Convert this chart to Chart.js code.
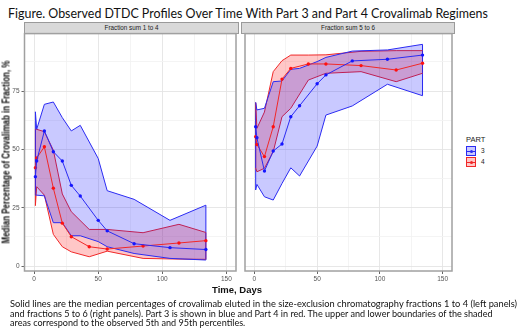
<!DOCTYPE html>
<html>
<head>
<meta charset="utf-8">
<script src="https://cdn.jsdelivr.net/npm/chart.js@4.4.0/dist/chart.umd.min.js"></script>
<style>
  body { margin: 0; background: #fff; }
  #wrap { position: relative; width: 520px; height: 330px; overflow: hidden; font-family: "Liberation Sans", Arial, sans-serif; }
  .abs { position: absolute; white-space: nowrap; }
  .fit { transform-origin: 0 50%; font-family: Lato, "Open Sans", sans-serif; color: #111; }
  .strip { position: absolute; background: #d9d9d9; border: 1px solid #9a9a9a; box-sizing: border-box;
           font-size: 6.3px; color: #1a1a1a; text-align: center; line-height: 10px; }
  canvas { position: absolute; }
</style>
</head>
<body>
<div id="wrap">
  <div id="title" class="abs fit" style="left:8px; top:5px; font-size:13px;">Figure. Observed DTDC Profiles Over Time With Part 3 and Part 4 Crovalimab Regimens</div>

  <div class="strip" style="left:24px; top:22px; width:215px; height:12px;">Fraction sum 1 to 4</div>
  <div class="strip" style="left:241px; top:22px; width:214px; height:12px;">Fraction sum 5 to 6</div>

  <canvas id="left" width="240" height="285" style="left:0; top:0;"></canvas>
  <canvas id="right" width="215" height="285" style="left:241px; top:0;"></canvas>

  <div id="ytitle" class="abs" style="left:0; top:0; font-weight:bold; font-size:10px; line-height:11px; color:#111;">Median Percentage of Crovalimab in Fraction, %</div>
  <div class="abs" style="left:237px; top:289px; transform: translate(-50%,-50%); font-weight:bold; font-size:9.5px; color:#111;">Time, Days</div>

  <div id="legend" class="abs" style="left:466px; top:135px;"></div>

  <div id="cap1" class="abs fit" style="left:10px; top:298px; font-size:9.5px;">Solid lines are the median percentages of crovalimab eluted in the size-exclusion chromatography fractions 1 to 4 (left panels)</div>
  <div id="cap2" class="abs fit" style="left:10px; top:307.5px; font-size:9.5px;">and fractions 5 to 6 (right panels). Part 3 is shown in blue and Part 4 in red. The upper and lower boundaries of the shaded</div>
  <div id="cap3" class="abs fit" style="left:10px; top:317px; font-size:9.5px;">areas correspond to the observed 5th and 95th percentiles.</div>
</div>

<script>
// study days for each part
var days3 = [1, 2, 8, 15, 22, 29, 36, 50, 57, 78, 106, 134];
var days4 = [1, 2, 8, 15, 22, 29, 43, 57, 85, 113, 134];

// Fraction sum 1 to 4
var f14_p3_median = [38.3, 45.0, 57.9, 49.0, 45.0, 34.6, 30.0, 19.6, 15.1, 9.6, 7.9, 7.1];
var f14_p3_low    = [30.4, 30.4, 30.1, 18.6, 18.6, 13.0, 13.0, 10.5, 8.3, 5.4, 3.3, 2.6];
var f14_p3_high   = [66.1, 58.6, 69.3, 70.3, 63.6, 57.9, 60.3, 46.1, 32.3, 28.6, 19.6, 26.1];
var f14_p4_median = [42.1, 46.3, 51.1, 33.4, 18.4, 12.6, 8.3, 7.3, 8.6, 9.9, 10.9];
var f14_p4_low    = [25.9, 34.0, 30.4, 13.6, 8.3, 6.1, 4.0, 6.4, 3.3, 3.0, 2.9];
var f14_p4_high   = [58.6, 58.6, 57.6, 49.7, 30.9, 23.3, 15.7, 15.7, 14.3, 17.9, 14.4];

// Fraction sum 5 to 6
var f56_p3_median = [59.7, 55.0, 40.7, 49.3, 52.3, 64.0, 68.7, 78.1, 81.9, 87.9, 88.6, 90.4];
var f56_p3_low    = [32.6, 35.0, 29.7, 28.3, 35.4, 42.1, 38.6, 51.4, 64.7, 68.6, 77.9, 73.0];
var f56_p3_high   = [70.1, 66.9, 67.6, 79.0, 79.3, 84.3, 84.7, 87.6, 89.4, 92.1, 92.6, 95.0];
var f56_p4_median = [55.4, 52.1, 46.9, 59.7, 80.1, 84.7, 86.6, 86.6, 85.9, 84.0, 86.9];
var f56_p4_low    = [42.0, 40.4, 41.9, 49.0, 64.0, 67.6, 79.7, 82.6, 83.3, 79.0, 82.6];
var f56_p4_high   = [70.0, 59.0, 66.0, 83.3, 88.0, 90.4, 90.4, 90.5, 92.0, 92.3, 92.3];

var parts = ["3", "4"];
var xTicks = [0, 25, 50, 75, 100, 125, 150];
var xLabels = [0, 50, 100, 150];
var yTicks = [0, 12.5, 25, 37.5, 50, 62.5, 75, 87.5];
var yLabels = [0, 25, 50, 75];

var BLUE = '#2b2bf2', RED = '#f02828';
var BLUE_FILL = 'rgba(0,0,255,0.21)', RED_FILL = 'rgba(255,0,0,0.22)';

function pts(xs, ys) {
    return xs.map(function(x, i) { return { x: x, y: ys[i] }; });
}
function edge(xs, lo, hi, i) {
    return [{ x: xs[i], y: lo[i] }, { x: xs[i], y: hi[i] }];
}

var panelBorder = {
    id: 'panelBorder',
    afterDraw: function(chart) {
        var a = chart.chartArea, c = chart.ctx;
        c.save();
        c.strokeStyle = '#a0a0a0';
        c.lineWidth = 1.5;
        c.strokeRect(a.left, a.top, a.right - a.left, a.bottom - a.top);
        c.restore();
    }
};

function makePanel(id, m3, l3, h3, m4, l4, h4, showY) {
    var line = function(data, color, extra) {
        return Object.assign({ data: data, borderColor: color, borderWidth: 1, pointRadius: 0, tension: 0, fill: false }, extra || {});
    };
    var n3 = days3.length - 1, n4 = days4.length - 1;
    var datasets = [
        line(pts(days3, m3), BLUE, { pointRadius: 1.7, pointBackgroundColor: '#1515ff', pointBorderWidth: 0 }),
        line(pts(days4, m4), RED, { pointRadius: 1.7, pointBackgroundColor: '#ff1010', pointBorderWidth: 0 }),
        line(pts(days3, l3), BLUE),
        line(pts(days3, h3), BLUE, { fill: '-1', backgroundColor: BLUE_FILL }),
        line(pts(days4, l4), RED),
        line(pts(days4, h4), RED, { fill: '-1', backgroundColor: RED_FILL }),
        line(edge(days3, l3, h3, 0), BLUE),
        line(edge(days3, l3, h3, n3), BLUE),
        line(edge(days4, l4, h4, 0), RED),
        line(edge(days4, l4, h4, n4), RED),
    ];
    var major = function(v, list) { return list.indexOf(v) >= 0; };
    return new Chart(document.getElementById(id), {
        type: 'line',
        data: { datasets: datasets },
        plugins: [panelBorder],
        options: {
            responsive: false,
            animation: false,
            layout: { padding: { left: showY ? 0 : 1, right: showY ? 1 : 0.6, top: 33.6, bottom: 0 } },
            plugins: { legend: { display: false }, tooltip: { enabled: false } },
            scales: {
                x: {
                    type: 'linear', min: -7.5, max: 157.5,
                    afterBuildTicks: function(ax) { ax.ticks = xTicks.map(function(v) { return { value: v }; }); },
                    afterFit: function(ax) { ax.height = 14; },
                    border: { display: false },
                    grid: {
                        color: function(c) { return major(c.tick.value, xLabels) ? '#e4e4e4' : '#f3f3f3'; },
                        tickColor: function(c) { return major(c.tick.value, xLabels) ? '#555' : 'rgba(0,0,0,0)'; },
                        tickLength: 3, lineWidth: 0.9
                    },
                    ticks: {
                        autoSkip: false, maxRotation: 0, padding: 1, color: '#555',
                        font: { family: 'Liberation Sans', size: 6.5 },
                        callback: function(v) { return major(v, xLabels) ? String(v) : ''; }
                    }
                },
                y: {
                    type: 'linear', min: -2.1, max: 99.6,
                    afterBuildTicks: function(ax) { ax.ticks = yTicks.map(function(v) { return { value: v }; }); },
                    afterFit: function(ax) { ax.width = showY ? 24.5 : 0; },
                    border: { display: false },
                    grid: {
                        color: function(c) { return major(c.tick.value, yLabels) ? '#e4e4e4' : '#f3f3f3'; },
                        tickColor: function(c) { return (showY && major(c.tick.value, yLabels)) ? '#555' : 'rgba(0,0,0,0)'; },
                        drawTicks: showY, tickLength: 3, lineWidth: 0.9
                    },
                    ticks: {
                        display: showY, autoSkip: false, padding: 2, color: '#555',
                        font: { family: 'Liberation Sans', size: 6.5 },
                        callback: function(v) { return major(v, yLabels) ? String(v) : ''; }
                    }
                }
            }
        }
    });
}

makePanel('left', f14_p3_median, f14_p3_low, f14_p3_high, f14_p4_median, f14_p4_low, f14_p4_high, true);
makePanel('right', f56_p3_median, f56_p3_low, f56_p3_high, f56_p4_median, f56_p4_low, f56_p4_high, false);

// legend built from the part list
var legendColors = { "3": [BLUE, BLUE_FILL], "4": [RED, RED_FILL] };
var lg = document.getElementById('legend');
var html = '<div style="font-size:7.5px;color:#222;margin-bottom:2px;">PART</div>';
parts.forEach(function(p) {
    var c = legendColors[p];
    html += '<div style="position:relative;height:11px;">' +
        '<div style="position:absolute;left:0;top:0;width:10px;height:10px;box-sizing:border-box;border:1px solid ' + c[0] + ';background:' + c[1] + ';"></div>' +
        '<div style="position:absolute;left:1px;top:4.5px;width:8px;height:1px;background:' + c[0] + ';"></div>' +
        '<div style="position:absolute;left:3.5px;top:3.5px;width:3px;height:3px;border-radius:50%;background:' + c[0] + ';"></div>' +
        '<div style="position:absolute;left:15px;top:1px;font-size:6.5px;color:#222;">' + p + '</div></div>';
});
lg.innerHTML = html;

// squeeze text to the widths in the figure
function fit(id, w) {
    var el = document.getElementById(id);
    el.style.transform = 'scaleX(' + (w / el.scrollWidth) + ')';
}
fit('title', 480);
fit('cap1', 507);
fit('cap2', 483);
fit('cap3', 235);

// rotated axis title, sized to the figure
var yt = document.getElementById('ytitle');
var s = 183 / yt.scrollWidth;
yt.style.transformOrigin = '0 0';
yt.style.transform = 'translate(0.5px, ' + (152 + 91.5) + 'px) rotate(-90deg) scaleX(' + s + ')';
</script>
</body>
</html>
